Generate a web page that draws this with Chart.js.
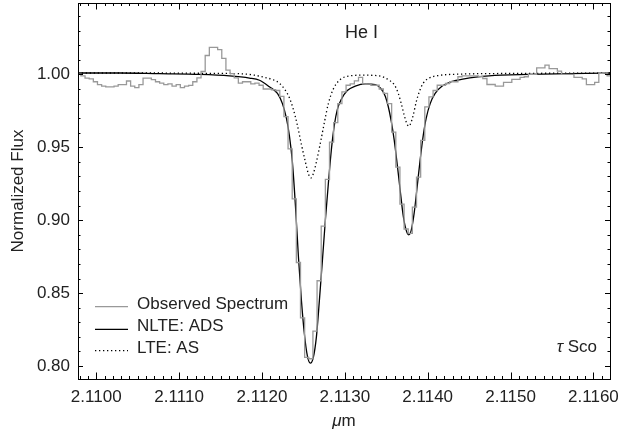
<!DOCTYPE html>
<html>
<head>
<meta charset="utf-8">
<script src="https://cdn.jsdelivr.net/npm/chart.js@4.4.1/dist/chart.umd.min.js"></script>
<style>
  html, body { margin: 0; padding: 0; background: #fff; }
  #wrap { width: 623px; height: 433px; }
</style>
</head>
<body>
<div id="wrap"><canvas id="spec"></canvas></div>
<script>
// observed spectrum: uniform bins, flux per bin
const obsStart = 2.109765;
const obsBin = 0.00005;
const obsFlux = [
  1.000, 0.999, 0.9975, 0.997, 0.995, 0.993, 0.992, 0.9915, 0.9915, 0.992,
  0.993, 0.993, 0.9955, 0.992, 0.991, 0.993, 0.9975, 0.9975, 0.9965, 0.995,
  0.994, 0.993, 0.9935, 0.992, 0.993, 0.991, 0.992, 0.9925, 0.995, 0.9977,
  1.002, 1.013, 1.0186, 1.0186, 1.017, 1.011, 1.003, 1.0005, 0.9977, 0.994,
  0.995, 0.995, 0.9935, 0.994, 0.9926, 0.990, 0.990, 0.9895, 0.989, 0.985,
  0.971, 0.949, 0.9147, 0.871, 0.833, 0.806, 0.805, 0.824, 0.8585, 0.896,
  0.928, 0.9536, 0.967, 0.980, 0.988, 0.9926, 0.9935, 0.9956, 0.998, 0.9935,
  0.9933, 0.9926, 0.9926, 0.990, 0.987, 0.980, 0.9605, 0.9364, 0.911, 0.894,
  0.891, 0.909, 0.9296, 0.9548, 0.9777, 0.9846, 0.989, 0.9926, 0.9926, 0.9938,
  0.995, 0.995, 0.9984, 0.999, 0.999, 0.999, 0.999, 0.9985, 0.9972, 0.9931,
  0.9931, 0.992, 0.992, 0.9945, 0.9945, 0.9966, 0.9966, 0.998, 0.9984, 1.000,
  1.000, 1.0045, 1.0045, 1.0064, 1.004, 1.004, 1.0023, 1.000, 1.000, 1.000,
  0.998, 0.998, 0.997, 0.993, 0.993, 0.9945, 1.0007, 1.001, 0.999
];

// NLTE model (ADS)
const nlteWave = [
  2.109777, 2.110283, 2.110765, 2.111247, 2.111608, 2.111849, 2.111970, 2.112090,
  2.112187, 2.112247, 2.112295, 2.112331, 2.112367, 2.112404, 2.112440, 2.112476,
  2.112512, 2.112548, 2.112584, 2.112620, 2.112657, 2.112693, 2.112729, 2.112765,
  2.112801, 2.112837, 2.112873, 2.112910, 2.112958, 2.113030, 2.113126, 2.113247,
  2.113367, 2.113440, 2.113488, 2.113524, 2.113560, 2.113596, 2.113633, 2.113669,
  2.113705, 2.113741, 2.113771, 2.113801, 2.113837, 2.113873, 2.113910, 2.113946,
  2.113982, 2.114030, 2.114090, 2.114175, 2.114283, 2.114440, 2.114741, 2.115223,
  2.115705, 2.116211
];
const nlteFlux = [
  1.001, 1.001, 1.0005, 1.000, 0.999, 0.9975, 0.996, 0.9915,
  0.987, 0.980, 0.970, 0.958, 0.940, 0.910, 0.875, 0.845,
  0.822, 0.807, 0.802, 0.806, 0.820, 0.845, 0.872, 0.900,
  0.925, 0.948, 0.965, 0.976, 0.983, 0.989, 0.992, 0.9935,
  0.993, 0.990, 0.985, 0.978, 0.968, 0.955, 0.938, 0.920,
  0.903, 0.893, 0.890, 0.893, 0.905, 0.923, 0.942, 0.958,
  0.970, 0.980, 0.987, 0.992, 0.995, 0.997, 0.999, 1.000,
  1.0005, 1.001
];

// LTE model (AS)
const lteWave = [
  2.109777, 2.110646, 2.111247, 2.111729, 2.111910, 2.112030, 2.112127, 2.112211,
  2.112283, 2.112331, 2.112379, 2.112428, 2.112476, 2.112524, 2.112560, 2.112590,
  2.112620, 2.112657, 2.112705, 2.112753, 2.112801, 2.112861, 2.112934, 2.113054,
  2.113235, 2.113416, 2.113536, 2.113596, 2.113645, 2.113681, 2.113717, 2.113747,
  2.113771, 2.113795, 2.113825, 2.113861, 2.113898, 2.113946, 2.114018, 2.114138,
  2.114379, 2.115102, 2.116211
];
const lteFlux = [
  1.001, 1.001, 1.0008, 1.0005, 0.9995, 0.998, 0.9965, 0.994,
  0.989, 0.984, 0.976, 0.965, 0.952, 0.940, 0.932, 0.929,
  0.932, 0.940, 0.953, 0.967, 0.980, 0.990, 0.996, 0.999,
  0.9995, 0.999, 0.996, 0.993, 0.987, 0.980, 0.972, 0.9665,
  0.9645, 0.9665, 0.972, 0.981, 0.988, 0.994, 0.9975, 0.9993,
  1.0002, 1.0007, 1.001
];

const xTicks = [2.1100, 2.1110, 2.1120, 2.1130, 2.1140, 2.1150, 2.1160];
const yTicks = [0.80, 0.85, 0.90, 0.95, 1.00];
const seriesNames = ['Observed Spectrum', 'NLTE: ADS', 'LTE: AS'];

const FONT = 'Liberation Sans';
const INK = '#222';

// stepped histogram points from the bin edges
const obsPts = obsFlux.map((f, i) => ({x: obsStart + i * obsBin, y: f}));
obsPts.push({x: obsStart + obsFlux.length * obsBin, y: obsFlux[obsFlux.length - 1]});

const toPts = (xs, ys) => xs.map((x, i) => ({x: x, y: ys[i]}));

const frame = {
  id: 'frame',
  afterDatasetsDraw(chart) {
    const ctx = chart.ctx;
    const a = chart.chartArea;
    const xs = chart.scales.x, ys = chart.scales.y;
    ctx.save();
    ctx.strokeStyle = '#000';
    ctx.lineWidth = 1;
    ctx.strokeRect(Math.round(a.left) + 0.5, Math.round(a.top) + 0.5,
      Math.round(a.right - a.left), Math.round(a.bottom - a.top));

    // inward ticks on all four sides
    ctx.beginPath();
    for (let k = 0; k <= 70; k++) {
      const v = 2.1098 + k * 0.0001;
      if (v < xs.min || v > xs.max) continue;
      const px = Math.round(xs.getPixelForValue(v)) + 0.5;
      const len = (k % 10 === 2) ? 6.5 : 3;
      ctx.moveTo(px, a.bottom); ctx.lineTo(px, a.bottom - len);
      ctx.moveTo(px, a.top); ctx.lineTo(px, a.top + len);
    }
    for (let k = 0; k <= 30; k++) {
      const v = 0.79 + k * 0.01;
      if (v < ys.min || v > ys.max) continue;
      const py = Math.round(ys.getPixelForValue(v)) + 0.5;
      const len = (k % 5 === 1) ? 5 : 2.5;
      ctx.moveTo(a.left, py); ctx.lineTo(a.left + len, py);
      ctx.moveTo(a.right, py); ctx.lineTo(a.right - len, py);
    }
    ctx.stroke();

    // legend
    const legY = [306.7, 329.3, 350.7];
    const txtY = [309.3, 330.7, 352.7];
    chart.data.datasets.forEach((ds, i) => {
      ctx.beginPath();
      ctx.strokeStyle = ds.borderColor;
      ctx.lineWidth = ds.borderWidth;
      ctx.setLineDash(ds.borderDash || []);
      ctx.moveTo(95, legY[i]); ctx.lineTo(128, legY[i]);
      ctx.stroke();
      ctx.setLineDash([]);
      ctx.fillStyle = INK;
      ctx.font = '17px "' + FONT + '"';
      ctx.textBaseline = 'alphabetic';
      ctx.textAlign = 'left';
      ctx.fillText(ds.label, 137, txtY[i]);
    });

    // annotations
    ctx.font = '18px "' + FONT + '"';
    ctx.fillText('He I', 345, 38);

    ctx.font = 'italic 17px "' + FONT + '"';
    const tauW = ctx.measureText('\u03c4').width;
    ctx.font = '17px "' + FONT + '"';
    const scoW = ctx.measureText(' Sco').width;
    let x0 = 597 - tauW - scoW;
    ctx.font = 'italic 17px "' + FONT + '"';
    ctx.fillText('\u03c4', x0, 351.7);
    ctx.font = '17px "' + FONT + '"';
    ctx.fillText(' Sco', x0 + tauW, 351.7);

    // x axis title
    ctx.font = 'italic 17px "' + FONT + '"';
    const muW = ctx.measureText('\u03bc').width;
    ctx.font = '17px "' + FONT + '"';
    const mW = ctx.measureText('m').width;
    x0 = (a.left + a.right) / 2 - (muW + mW) / 2;
    ctx.font = 'italic 17px "' + FONT + '"';
    ctx.fillText('\u03bc', x0, 425.5);
    ctx.font = '17px "' + FONT + '"';
    ctx.fillText('m', x0 + muW, 425.5);
    ctx.restore();
  }
};

new Chart(document.getElementById('spec'), {
  type: 'scatter',
  data: {
    datasets: [
      {
        label: seriesNames[0],
        data: obsPts,
        showLine: true,
        stepped: 'before',
        borderColor: '#999999',
        borderWidth: 1.3,
        pointRadius: 0
      },
      {
        label: seriesNames[1],
        data: toPts(nlteWave, nlteFlux),
        showLine: true,
        cubicInterpolationMode: 'monotone',
        borderColor: '#000000',
        borderWidth: 1.3,
        pointRadius: 0
      },
      {
        label: seriesNames[2],
        data: toPts(lteWave, lteFlux),
        showLine: true,
        cubicInterpolationMode: 'monotone',
        borderColor: '#000000',
        borderWidth: 1.3,
        borderDash: [1.3, 2.7],
        pointRadius: 0
      }
    ]
  },
  options: {
    responsive: true,
    maintainAspectRatio: false,
    animation: false,
    devicePixelRatio: 1,
    layout: { padding: { top: 3, right: 13, left: 0, bottom: 0 } },
    plugins: { legend: { display: false }, tooltip: { enabled: false } },
    scales: {
      x: {
        type: 'linear',
        min: 2.10978,
        max: 2.11620,
        grid: { display: false, drawTicks: false },
        border: { display: false },
        afterBuildTicks: s => { s.ticks = xTicks.map(v => ({value: v})); },
        afterFit: s => { s.height = 54; s.paddingLeft = 0; s.paddingRight = 0; },
        ticks: {
          padding: 8,
          color: INK,
          font: { family: FONT, size: 17 },
          maxRotation: 0,
          callback: v => v.toFixed(4)
        }
      },
      y: {
        min: 0.7911,
        max: 1.049,
        grid: { display: false, drawTicks: false },
        border: { display: false },
        afterBuildTicks: s => { s.ticks = yTicks.map(v => ({value: v})); },
        afterFit: s => { s.width = 78; s.paddingTop = 0; s.paddingBottom = 0; },
        title: {
          display: true,
          text: 'Normalized Flux',
          color: INK,
          font: { family: FONT, size: 17 },
          padding: { top: 8, bottom: 0 }
        },
        ticks: {
          padding: 8,
          color: INK,
          font: { family: FONT, size: 17 },
          callback: v => v.toFixed(2)
        }
      }
    }
  },
  plugins: [frame]
});
</script>
</body>
</html>
